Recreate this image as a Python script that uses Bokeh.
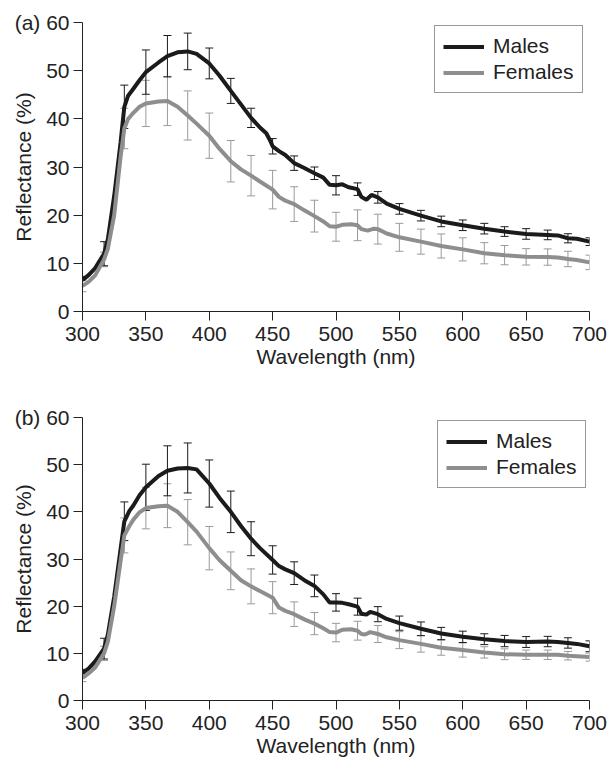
from bokeh.plotting import figure
from bokeh.models import ColumnDataSource, Whisker, TeeHead, Legend, LegendItem, FixedTicker
from bokeh.layouts import column
from bokeh.embed import file_html
from bokeh.resources import INLINE

# ---------------- data ----------------
WL_TICKS = [300, 350, 400, 450, 500, 550, 600, 650, 700]
REF_TICKS = [0, 10, 20, 30, 40, 50, 60]

# wavelengths at which error bars are drawn
bar_wl = [300, 317, 333, 350, 367, 383, 400, 417, 433, 450, 467, 483, 500,
          517, 533, 550, 567, 583, 600, 617, 633, 650, 667, 683, 700]

# Panel (a)
a_male_wl = [300, 305, 310, 317, 320, 325, 330, 333, 336, 340, 345, 350, 360, 367, 375,
             383, 390, 400, 408, 417, 425, 433, 440, 445, 448, 450, 455, 460, 467, 475,
             483, 490, 495, 500, 505, 510, 517, 520, 524, 528, 533, 540, 550, 567, 583,
             600, 617, 633, 650, 667, 675, 683, 690, 700]
a_male_v = [6.5, 7.6, 9.0, 12.0, 15.0, 24.0, 35.0, 42.5, 44.8, 46.2, 48.0, 49.7, 51.7, 53.0, 53.8,
            54.0, 53.5, 51.5, 49.0, 45.8, 43.0, 40.2, 38.2, 37.0, 35.5, 34.3, 33.3, 32.5, 30.8, 29.8,
            28.7, 27.8, 26.3, 26.2, 26.4, 25.8, 25.4, 23.8, 23.2, 24.2, 23.7, 22.4, 21.3, 19.9, 18.7,
            17.9, 17.2, 16.6, 16.1, 15.9, 15.8, 15.2, 15.1, 14.5]
a_male_err = [0.8, 2.5, 4.5, 4.6, 4.3, 3.8, 3.2, 2.6, 2.0, 1.6, 1.5, 1.3, 2.0,
              1.3, 1.2, 1.1, 1.1, 1.1, 1.1, 1.1, 1.0, 1.1, 1.0, 0.95, 0.8]

a_fem_wl = [300, 305, 310, 317, 320, 325, 330, 333, 336, 340, 345, 350, 360, 367, 375,
            383, 390, 400, 408, 417, 425, 433, 440, 450, 455, 460, 467, 475, 483, 490,
            495, 500, 505, 512, 517, 520, 525, 530, 533, 540, 550, 567, 583, 600, 617,
            633, 650, 667, 675, 683, 690, 700]
a_fem_v = [5.3, 6.2, 7.5, 10.8, 13.0, 20.0, 32.0, 38.0, 40.0, 41.2, 42.5, 43.2, 43.6, 43.7, 42.5,
           40.7, 39.0, 36.5, 33.8, 31.2, 29.5, 28.2, 27.0, 25.3, 23.8, 23.0, 22.3, 21.0, 19.8, 18.7,
           17.7, 17.6, 18.0, 18.1, 17.9, 17.1, 16.8, 17.2, 17.1, 16.2, 15.4, 14.5, 13.6, 12.9, 12.1,
           11.7, 11.35, 11.3, 11.2, 10.9, 10.7, 10.2]
a_fem_err = [1.2, 1.5, 4.2, 4.8, 5.1, 5.1, 4.7, 4.3, 4.2, 4.0, 3.6, 3.3, 3.0,
             3.2, 3.1, 2.9, 2.6, 2.5, 2.4, 2.2, 2.0, 1.7, 1.7, 1.6, 1.5]

# Panel (b)
b_male_wl = [300, 305, 310, 317, 320, 325, 330, 333, 337, 340, 345, 350, 360, 367, 375,
             383, 390, 400, 408, 417, 425, 433, 440, 450, 455, 460, 467, 475, 483, 490,
             495, 500, 505, 510, 517, 520, 524, 527, 533, 540, 550, 567, 583, 600, 617,
             633, 650, 667, 675, 683, 690, 700]
b_male_v = [5.8, 6.8, 8.3, 11.0, 14.0, 22.0, 32.0, 38.0, 40.2, 41.3, 43.5, 45.2, 47.6, 48.7, 49.2,
            49.3, 49.0, 46.0, 43.0, 40.0, 37.0, 34.3, 32.3, 29.8, 28.5, 27.8, 27.0, 25.5, 24.3, 22.5,
            20.8, 20.8, 20.7, 20.4, 19.9, 18.4, 18.2, 18.8, 18.3, 17.3, 16.4, 15.2, 14.2, 13.5, 13.0,
            12.6, 12.4, 12.5, 12.4, 12.2, 12.0, 11.5]
b_male_err = [0.8, 2.2, 4.1, 4.9, 5.3, 5.3, 5.0, 4.4, 3.6, 3.0, 2.4, 2.3, 1.85,
              1.8, 1.6, 1.5, 1.45, 1.3, 1.2, 1.15, 1.2, 1.15, 1.1, 1.1, 1.15]

b_fem_wl = [300, 305, 310, 317, 320, 325, 330, 333, 337, 340, 345, 350, 360, 367, 375,
            383, 390, 400, 408, 417, 425, 433, 440, 450, 455, 460, 467, 475, 483, 490,
            495, 500, 505, 512, 517, 520, 523, 527, 533, 540, 550, 567, 583, 600, 617,
            633, 650, 667, 675, 683, 690, 700]
b_fem_v = [4.8, 5.8, 7.0, 10.0, 12.5, 20.0, 29.5, 35.0, 37.0, 38.3, 39.9, 40.8, 41.2, 41.3, 40.0,
           37.8, 35.8, 32.3, 29.8, 27.5, 25.5, 24.2, 23.2, 21.8, 19.7, 19.0, 18.3, 17.2, 16.3, 15.3,
           14.5, 14.4, 15.0, 15.1, 14.8, 14.1, 14.0, 14.5, 14.1, 13.4, 12.8, 12.0, 11.2, 10.7, 10.2,
           9.8, 9.7, 9.7, 9.7, 9.5, 9.4, 9.2]
b_fem_err = [0.8, 1.5, 3.7, 4.4, 4.65, 4.8, 4.6, 4.0, 3.7, 3.4, 2.6, 2.35, 1.95,
             2.0, 1.8, 1.8, 1.75, 1.6, 1.5, 1.2, 1.15, 1.0, 1.0, 0.9, 0.85]

MALE_COLOR = "#1b1b1b"
FEM_COLOR = "#8e8e8e"
FEM_BAR_COLOR = "#9a9a9a"
TEXT_COLOR = "#222222"
FONT = "Liberation Sans"


def bar_source(wl, vals, err):
    lookup = dict(zip(wl, vals))
    base = [lookup[w] for w in bar_wl]
    return ColumnDataSource(dict(x=bar_wl,
                                 up=[b + e for b, e in zip(base, err)],
                                 lo=[b - e for b, e in zip(base, err)]))


def panel(tag, mw, mv, me, fw, fv, fe, height, b_top, b_bottom, b_right, legend_xy):
    p = figure(width=611, height=height, x_range=(300, 700), y_range=(0, 60),
               output_backend="svg", toolbar_location=None,
               min_border_left=82, min_border_right=b_right,
               min_border_top=b_top, min_border_bottom=b_bottom)
    p.outline_line_color = None
    p.grid.visible = False
    p.background_fill_color = "white"

    for ax in (p.xaxis[0], p.yaxis[0]):
        ax.axis_line_color = TEXT_COLOR
        ax.major_tick_line_color = TEXT_COLOR
        ax.major_tick_out = 9
        ax.major_tick_in = 0
        ax.minor_tick_line_color = None
        ax.major_label_text_font = FONT
        ax.major_label_text_font_size = "21px"
        ax.major_label_text_color = TEXT_COLOR
        ax.axis_label_text_font = FONT
        ax.axis_label_text_font_size = "21px"
        ax.axis_label_text_font_style = "normal"
        ax.axis_label_text_color = TEXT_COLOR
    p.xaxis.ticker = FixedTicker(ticks=WL_TICKS)
    p.yaxis.ticker = FixedTicker(ticks=REF_TICKS)
    # panel tag sits to the left of the top tick label
    p.yaxis.major_label_overrides = {60: tag + " 60"}
    p.xaxis.axis_label = "Wavelength (nm)"
    p.yaxis.axis_label = "Reflectance (%)"
    p.xaxis.major_label_standoff = 6
    p.yaxis.major_label_standoff = 4
    p.xaxis.axis_label_standoff = 1
    p.yaxis.axis_label_standoff = -23

    ml = p.line(mw, mv, line_color=MALE_COLOR, line_width=4)
    fl = p.line(fw, fv, line_color=FEM_COLOR, line_width=4)

    for (w, v, e, col) in ((fw, fv, fe, FEM_BAR_COLOR), (mw, mv, me, MALE_COLOR)):
        src = bar_source(w, v, e)
        wk = Whisker(source=src, base="x", upper="up", lower="lo",
                     dimension="height", line_color=col, line_width=1,
                     upper_head=TeeHead(size=8, line_color=col, line_width=1),
                     lower_head=TeeHead(size=8, line_color=col, line_width=1))
        p.add_layout(wk)

    leg = Legend(items=[LegendItem(label="Males", renderers=[ml]),
                        LegendItem(label="Females", renderers=[fl])],
                 location=legend_xy, orientation="vertical")
    leg.label_text_font = FONT
    leg.label_text_font_size = "21px"
    leg.label_text_color = TEXT_COLOR
    leg.glyph_width = 41
    leg.glyph_height = 23
    leg.label_height = 23
    leg.label_standoff = 9
    leg.spacing = 2
    leg.padding = 8
    leg.margin = 0
    leg.border_line_color = "#333333"
    leg.border_line_width = 1
    leg.background_fill_color = "white"
    leg.background_fill_alpha = 1.0
    p.add_layout(leg)
    return p


pa = panel("(a)", a_male_wl, a_male_v, a_male_err, a_fem_wl, a_fem_v, a_fem_err,
           388, 22, 77, 22, (352, 218))
pb = panel("(b)", b_male_wl, b_male_v, b_male_err, b_fem_wl, b_fem_v, b_fem_err,
           376, 29, 64, 18, (355, 212))

layout = column(pa, pb, spacing=0)
open("out.html", "w").write(file_html(layout, INLINE))
